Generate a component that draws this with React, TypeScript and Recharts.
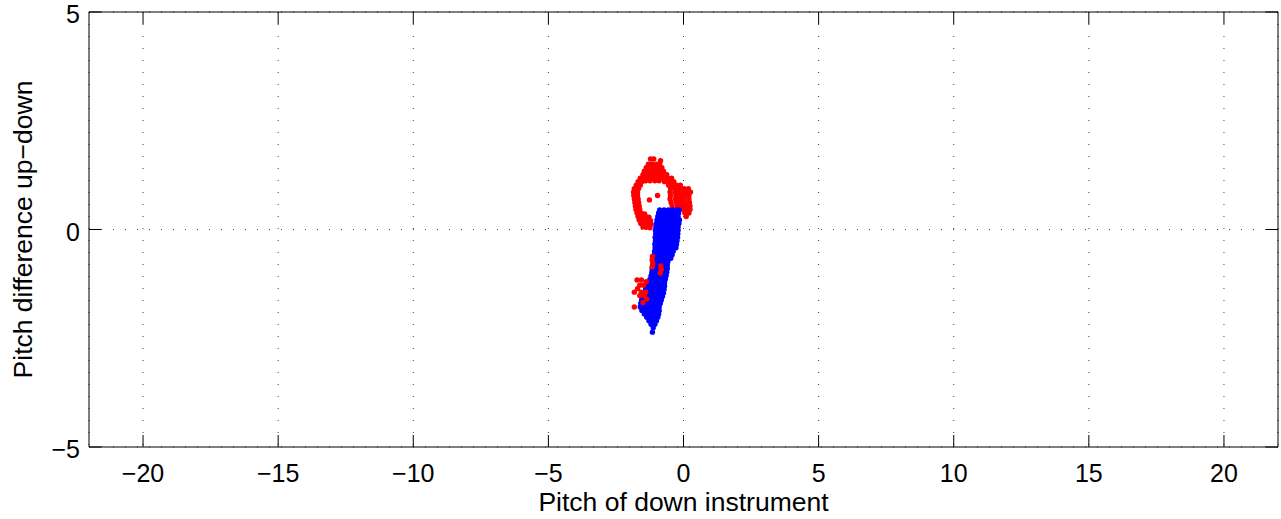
import { ScatterChart, Scatter, XAxis, YAxis, CartesianGrid } from 'recharts'

// axis ticks
const xTicks = [-20, -15, -10, -5, 0, 5, 10, 15, 20]
const yTicks = [-5, 0, 5]

// red points, upper loop: [pitch down, pitch difference]
const redLoop: [number, number][] = [
  [-1.22, 1.62], [-1.1, 1.62], [-0.85, 1.58],
  [-1.3, 1.5], [-1.16, 1.5], [-1.0, 1.5], [-0.88, 1.5],
  [-1.38, 1.42], [-1.24, 1.42], [-1.1, 1.42], [-0.96, 1.42], [-0.8, 1.42],
  [-1.45, 1.34], [-1.3, 1.34], [-1.16, 1.34], [-1.02, 1.34], [-0.88, 1.34], [-0.74, 1.34],
  [-1.5, 1.26], [-1.36, 1.26], [-1.22, 1.26], [-1.08, 1.26], [-0.94, 1.26], [-0.8, 1.26], [-0.62, 1.26],
  [-1.6, 1.18], [-1.46, 1.18], [-1.32, 1.18], [-1.18, 1.18], [-1.04, 1.18], [-0.9, 1.18], [-0.76, 1.18],
  [-0.58, 1.18], [-0.44, 1.18],
  [-1.68, 1.1], [-1.54, 1.1], [-1.4, 1.12], [-1.24, 1.12], [-1.06, 1.12], [-0.9, 1.12], [-0.7, 1.1],
  [-0.52, 1.1], [-0.36, 1.1],
  [-1.75, 1.02], [-1.6, 1.02], [-0.55, 1.02], [-0.42, 1.02], [-0.26, 1.02], [-0.12, 1.02],
  [-1.82, 0.94], [-1.66, 0.94], [-0.48, 0.94], [-0.3, 0.94],
  [-0.14, 0.94], [0.02, 0.94], [0.18, 0.94],
  [-1.85, 0.86], [-1.7, 0.86], [-0.5, 0.86], [-0.32, 0.86],
  [-0.16, 0.86], [0.0, 0.86], [0.16, 0.86], [0.26, 0.86],
  [-1.84, 0.78], [-1.7, 0.78], [-0.96, 0.78], [-0.48, 0.78],
  [-0.28, 0.78], [-0.12, 0.78], [0.04, 0.78], [0.2, 0.78],
  [-1.82, 0.7], [-1.68, 0.7], [-1.26, 0.68], [-0.5, 0.7],
  [-0.3, 0.7], [-0.14, 0.7], [0.02, 0.7], [0.2, 0.7],
  [-1.8, 0.62], [-1.66, 0.62], [-0.46, 0.62], [-0.26, 0.62],
  [-0.1, 0.62], [0.06, 0.62], [0.22, 0.62],
  [-1.78, 0.54], [-1.64, 0.54], [-0.42, 0.54], [-0.22, 0.54],
  [-0.06, 0.54], [0.1, 0.54], [0.24, 0.54],
  [-1.76, 0.46], [-1.62, 0.46], [-0.3, 0.46], [0.0, 0.46], [0.14, 0.46], [0.24, 0.46],
  [-1.72, 0.38], [-1.58, 0.38], [-1.44, 0.36], [0.05, 0.38], [0.2, 0.38],
  [-1.68, 0.3], [-1.54, 0.3], [-1.4, 0.3], [-1.28, 0.28], [0.1, 0.3],
  [-1.64, 0.22], [-1.5, 0.22], [-1.36, 0.22], [-1.22, 0.2],
  [-1.58, 0.14], [-1.44, 0.14], [-1.32, 0.12], [-1.2, 0.12],
  [-1.5, 0.06], [-1.38, 0.05], [-1.24, 0.04],
]

// blue points, diagonal band
const bluePoints: [number, number][] = [
  [-0.88, 0.45], [-0.72, 0.45], [-0.56, 0.45], [-0.4, 0.45], [-0.24, 0.45], [-0.16, 0.45],
  [-0.92, 0.38], [-0.78, 0.38], [-0.62, 0.38], [-0.46, 0.38], [-0.3, 0.38], [-0.18, 0.38],
  [-0.95, 0.3], [-0.8, 0.3], [-0.65, 0.3], [-0.5, 0.3], [-0.35, 0.3], [-0.2, 0.3],
  [-0.98, 0.22], [-0.84, 0.22], [-0.7, 0.22], [-0.55, 0.22], [-0.4, 0.22], [-0.25, 0.22], [-0.15, 0.22],
  [-1.0, 0.14], [-0.86, 0.14], [-0.72, 0.14], [-0.58, 0.14], [-0.44, 0.14], [-0.3, 0.14], [-0.17, 0.14],
  [-1.02, 0.06], [-0.88, 0.06], [-0.74, 0.06], [-0.6, 0.06], [-0.46, 0.06], [-0.32, 0.06], [-0.2, 0.06],
  [-1.04, -0.02], [-0.9, -0.02], [-0.76, -0.02], [-0.62, -0.02], [-0.48, -0.02], [-0.34, -0.02], [-0.2, -0.02],
  [-1.03, -0.1], [-0.89, -0.1], [-0.75, -0.1], [-0.61, -0.1], [-0.47, -0.1], [-0.33, -0.1], [-0.21, -0.1],
  [-1.05, -0.18], [-0.91, -0.18], [-0.77, -0.18], [-0.63, -0.18], [-0.49, -0.18], [-0.35, -0.18], [-0.22, -0.18],
  [-1.04, -0.26], [-0.9, -0.26], [-0.76, -0.26], [-0.62, -0.26], [-0.48, -0.26], [-0.34, -0.26], [-0.24, -0.26],
  [-1.06, -0.34], [-0.92, -0.34], [-0.78, -0.34], [-0.64, -0.34], [-0.5, -0.34], [-0.36, -0.34], [-0.26, -0.34],
  [-1.05, -0.42], [-0.91, -0.42], [-0.77, -0.42], [-0.63, -0.42], [-0.49, -0.42], [-0.35, -0.42], [-0.28, -0.42],
  [-1.07, -0.5], [-0.93, -0.5], [-0.79, -0.5], [-0.65, -0.5], [-0.51, -0.5], [-0.38, -0.5],
  [-1.08, -0.58], [-0.94, -0.58], [-0.8, -0.58], [-0.66, -0.58], [-0.52, -0.58], [-0.42, -0.58],
  [-1.1, -0.66], [-0.96, -0.66], [-0.82, -0.66], [-0.68, -0.66], [-0.55, -0.66], [-0.47, -0.66],
  [-1.12, -0.74], [-0.98, -0.74], [-0.84, -0.74], [-0.7, -0.74], [-0.58, -0.74],
  [-1.14, -0.82], [-1.0, -0.82], [-0.86, -0.82], [-0.72, -0.82], [-0.6, -0.82],
  [-1.16, -0.9], [-1.02, -0.9], [-0.88, -0.9], [-0.74, -0.9], [-0.6, -0.9],
  [-1.17, -0.98], [-1.03, -0.98], [-0.89, -0.98], [-0.75, -0.98], [-0.62, -0.98],
  [-1.2, -1.06], [-1.06, -1.06], [-0.92, -1.06], [-0.78, -1.06], [-0.64, -1.06],
  [-1.24, -1.14], [-1.1, -1.14], [-0.96, -1.14], [-0.82, -1.14], [-0.67, -1.14],
  [-1.28, -1.22], [-1.14, -1.22], [-1.0, -1.22], [-0.86, -1.22], [-0.7, -1.22],
  [-1.34, -1.3], [-1.2, -1.3], [-1.06, -1.3], [-0.92, -1.3], [-0.78, -1.3], [-0.7, -1.3],
  [-1.4, -1.38], [-1.26, -1.38], [-1.12, -1.38], [-0.98, -1.38], [-0.84, -1.38], [-0.72, -1.38],
  [-1.46, -1.46], [-1.32, -1.46], [-1.18, -1.46], [-1.04, -1.46], [-0.9, -1.46], [-0.74, -1.46],
  [-1.5, -1.54], [-1.36, -1.54], [-1.22, -1.54], [-1.08, -1.54], [-0.94, -1.54], [-0.78, -1.54],
  [-1.55, -1.62], [-1.41, -1.62], [-1.27, -1.62], [-1.13, -1.62], [-0.99, -1.62], [-0.82, -1.62],
  [-1.58, -1.7], [-1.44, -1.7], [-1.3, -1.7], [-1.16, -1.7], [-1.02, -1.7], [-0.86, -1.7],
  [-1.6, -1.78], [-1.46, -1.78], [-1.32, -1.78], [-1.18, -1.78], [-1.04, -1.78], [-0.9, -1.78],
  [-1.54, -1.86], [-1.4, -1.86], [-1.26, -1.86], [-1.12, -1.86], [-0.98, -1.86], [-0.9, -1.86],
  [-1.45, -1.94], [-1.32, -1.94], [-1.18, -1.94], [-1.04, -1.94], [-0.92, -1.94],
  [-1.36, -2.02], [-1.22, -2.02], [-1.08, -2.02], [-0.95, -2.02],
  [-1.28, -2.1], [-1.14, -2.1], [-1.0, -2.1],
  [-1.2, -2.18], [-1.06, -2.18],
  [-1.12, -2.26],
  [-1.15, -2.36],
]

// red points, lower group drawn over the blue band
const redLower: [number, number][] = [
  [-1.15, -0.62], [-1.16, -0.7], [-1.14, -0.78], [-1.16, -0.86],
  [-0.84, -0.84], [-0.82, -0.92], [-0.86, -1.0],
  [-1.72, -1.16], [-1.56, -1.16], [-1.38, -1.2], [-1.62, -1.28], [-1.48, -1.28],
  [-1.7, -1.36], [-1.82, -1.44], [-1.56, -1.44], [-1.4, -1.44], [-1.62, -1.52],
  [-1.46, -1.52], [-1.36, -1.6], [-1.5, -1.68], [-1.82, -1.78],
]

const toPoints = (pts: [number, number][]) => pts.map(([x, y]) => ({ x, y }))

const FONT = '"Liberation Sans", Arial, Helvetica, sans-serif'
const TICK_LEN = 12
const fmt = (v: number) => (v < 0 ? '\u2212' + Math.abs(v) : String(v))

const Dot = (props: any) => <circle cx={props.cx} cy={props.cy} r={2.7} fill={props.fill} />

const BottomTick = (props: any) => {
  const { x, y, payload } = props
  return (
    <g>
      <line x1={x} x2={x} y1={y} y2={y - TICK_LEN} stroke="#000" />
      <text x={x} y={y + 35} textAnchor="middle" fontSize={25} fontFamily={FONT} fill="#000">
        {fmt(payload.value)}
      </text>
    </g>
  )
}

const TopTick = (props: any) => {
  const { x, y } = props
  return <line x1={x} x2={x} y1={y} y2={y + TICK_LEN} stroke="#000" />
}

const LeftTick = (props: any) => {
  const { x, y, payload } = props
  return (
    <g>
      <line x1={x} x2={x + TICK_LEN} y1={y} y2={y} stroke="#000" />
      <text x={x - 9} y={y} dy="0.45em" textAnchor="end" fontSize={25} fontFamily={FONT} fill="#000">
        {fmt(payload.value)}
      </text>
    </g>
  )
}

const RightTick = (props: any) => {
  const { x, y } = props
  return <line x1={x} x2={x - TICK_LEN} y1={y} y2={y} stroke="#000" />
}

const XLabel = (props: any) => {
  const vb = props.viewBox
  return (
    <text x={vb.x + vb.width / 2} y={511} textAnchor="middle" fontSize={26.5} fontFamily={FONT} fill="#000">
      Pitch of down instrument
    </text>
  )
}

const YLabel = (props: any) => {
  const vb = props.viewBox
  const cy = vb.y + vb.height / 2
  return (
    <text
      x={32}
      y={cy}
      transform={`rotate(-90, 32, ${cy})`}
      textAnchor="middle"
      fontSize={26.5}
      fontFamily={FONT}
      fill="#000"
    >
      Pitch difference up{'\u2212'}down
    </text>
  )
}

export default function App() {
  return (
    <div style={{ position: 'absolute', left: 0, top: 0, background: '#fff' }}>
      <ScatterChart width={1281} height={519} margin={{ top: 11, right: 2, bottom: 0, left: 0 }}>
        <CartesianGrid stroke="#444" strokeDasharray="1 11" />
        <XAxis
          type="number"
          dataKey="x"
          domain={[-22, 22]}
          ticks={xTicks}
          allowDataOverflow
          height={72}
          tickSize={0}
          tickMargin={0}
          tickLine={false}
          axisLine={{ stroke: '#000' }}
          tick={<BottomTick />}
          label={<XLabel />}
        />
        <XAxis
          xAxisId="top"
          orientation="top"
          type="number"
          dataKey="x"
          domain={[-22, 22]}
          ticks={xTicks}
          allowDataOverflow
          height={1}
          tickSize={0}
          tickMargin={0}
          tickLine={false}
          axisLine={{ stroke: '#000' }}
          tick={<TopTick />}
        />
        <YAxis
          type="number"
          dataKey="y"
          domain={[-5, 5]}
          ticks={yTicks}
          allowDataOverflow
          width={89}
          tickSize={0}
          tickMargin={0}
          tickLine={false}
          axisLine={{ stroke: '#000' }}
          tick={<LeftTick />}
          label={<YLabel />}
        />
        <YAxis
          yAxisId="right"
          orientation="right"
          type="number"
          dataKey="y"
          domain={[-5, 5]}
          ticks={yTicks}
          allowDataOverflow
          width={1}
          tickSize={0}
          tickMargin={0}
          tickLine={false}
          axisLine={{ stroke: '#000' }}
          tick={<RightTick />}
        />
        <Scatter data={toPoints(redLoop)} fill="#ff0000" shape={<Dot />} isAnimationActive={false} />
        <Scatter data={toPoints(bluePoints)} fill="#0000ff" shape={<Dot />} isAnimationActive={false} />
        <Scatter
          data={toPoints(redLower)}
          xAxisId="top"
          yAxisId="right"
          fill="#ff0000"
          shape={<Dot />}
          isAnimationActive={false}
        />
      </ScatterChart>
    </div>
  )
}
